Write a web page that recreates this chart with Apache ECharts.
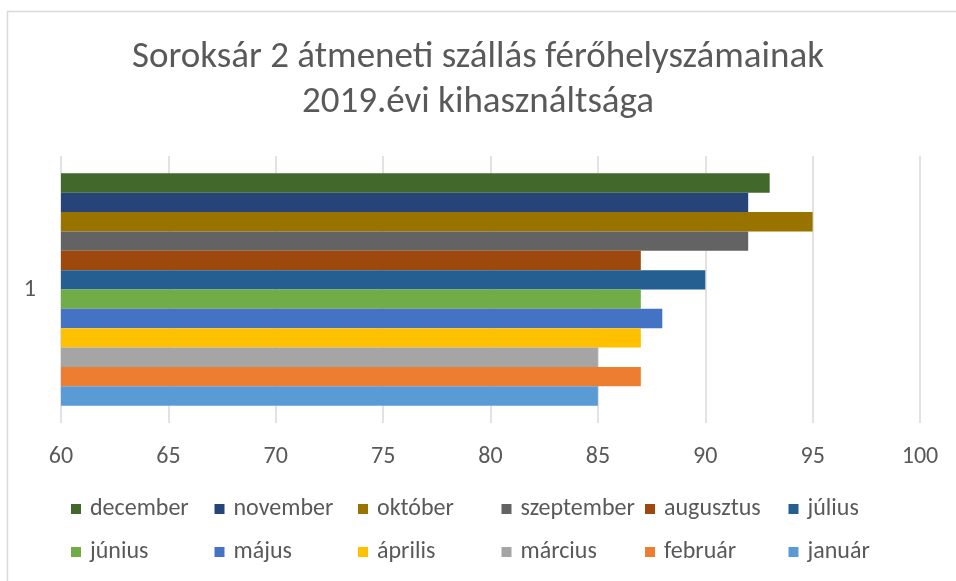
<!DOCTYPE html>
<html>
<head>
<meta charset="utf-8">
<script src="https://cdn.jsdelivr.net/npm/echarts@6/dist/echarts.min.js"></script>
<style>
html,body{margin:0;padding:0;background:#fff;}
#c{width:956px;height:581px;}
</style>
</head>
<body>
<div id="c"></div>
<script>
const categories = ['1'];
const seriesNames = ['december','november','október','szeptember','augusztus','július','június','május','április','március','február','január'];
const seriesValues = [93, 92, 95, 92, 87, 90, 87, 88, 87, 85, 87, 85];
const seriesColors = ['#43682B','#264478','#997300','#636363','#9E480E','#255E91','#70AD47','#4472C4','#FFC000','#A5A5A5','#ED7D31','#5B9BD5'];
const xTicks = {min: 60, max: 100, interval: 5};
const titleText = 'Soroksár 2 átmeneti szállás férőhelyszámainak\n2019.évi kihasználtsága';

const FONT = 'Carlito, Calibri, "Liberation Sans", Arial, sans-serif';
const TXT = '#595959';

const series = seriesNames.map((n, i) => ({
  name: n,
  type: 'bar',
  data: [seriesValues[i]],
  itemStyle: {color: seriesColors[i]},
  barGap: '0%',
  barCategoryGap: '13%'
}));

const legends = seriesNames.map((n, i) => ({
  data: [n],
  left: 71 + (i % 6) * 143.5,
  top: i < 6 ? 497 : 540,
  padding: 0,
  itemWidth: 10,
  itemHeight: 10,
  icon: 'rect',
  selectedMode: false,
  textStyle: {color: TXT, fontSize: 24, fontFamily: FONT, lineHeight: 24, padding: [0,0,0,4]}
}));

const chart = echarts.init(document.getElementById('c'), null, {renderer: 'canvas'});
chart.setOption({
  animation: false,
  backgroundColor: '#fff',
  title: {
    text: titleText,
    left: 'center',
    top: 35,
    padding: 0,
    textStyle: {color: TXT, fontSize: 37, fontWeight: 'normal', fontFamily: FONT, lineHeight: 45}
  },
  graphic: [{
    type: 'rect',
    shape: {x: 7.5, y: 11.5, width: 1000, height: 700},
    style: {fill: 'none', stroke: '#d9d9d9', lineWidth: 1.5},
    silent: true
  }],
  legend: legends,
  grid: {left: 61, right: 36, top: 156, bottom: 158, containLabel: false},
  xAxis: {
    type: 'value',
    min: xTicks.min,
    max: xTicks.max,
    interval: xTicks.interval,
    axisLine: {show: false},
    axisTick: {show: false},
    splitLine: {show: true, lineStyle: {color: '#d9d9d9', width: 1.5}},
    axisLabel: {color: TXT, fontSize: 24, fontFamily: FONT, margin: 22}
  },
  yAxis: {
    type: 'category',
    data: categories,
    axisLine: {show: false},
    axisTick: {show: false},
    axisLabel: {color: TXT, fontSize: 24, fontFamily: FONT, margin: 25}
  },
  series: series
});
</script>
</body>
</html>
